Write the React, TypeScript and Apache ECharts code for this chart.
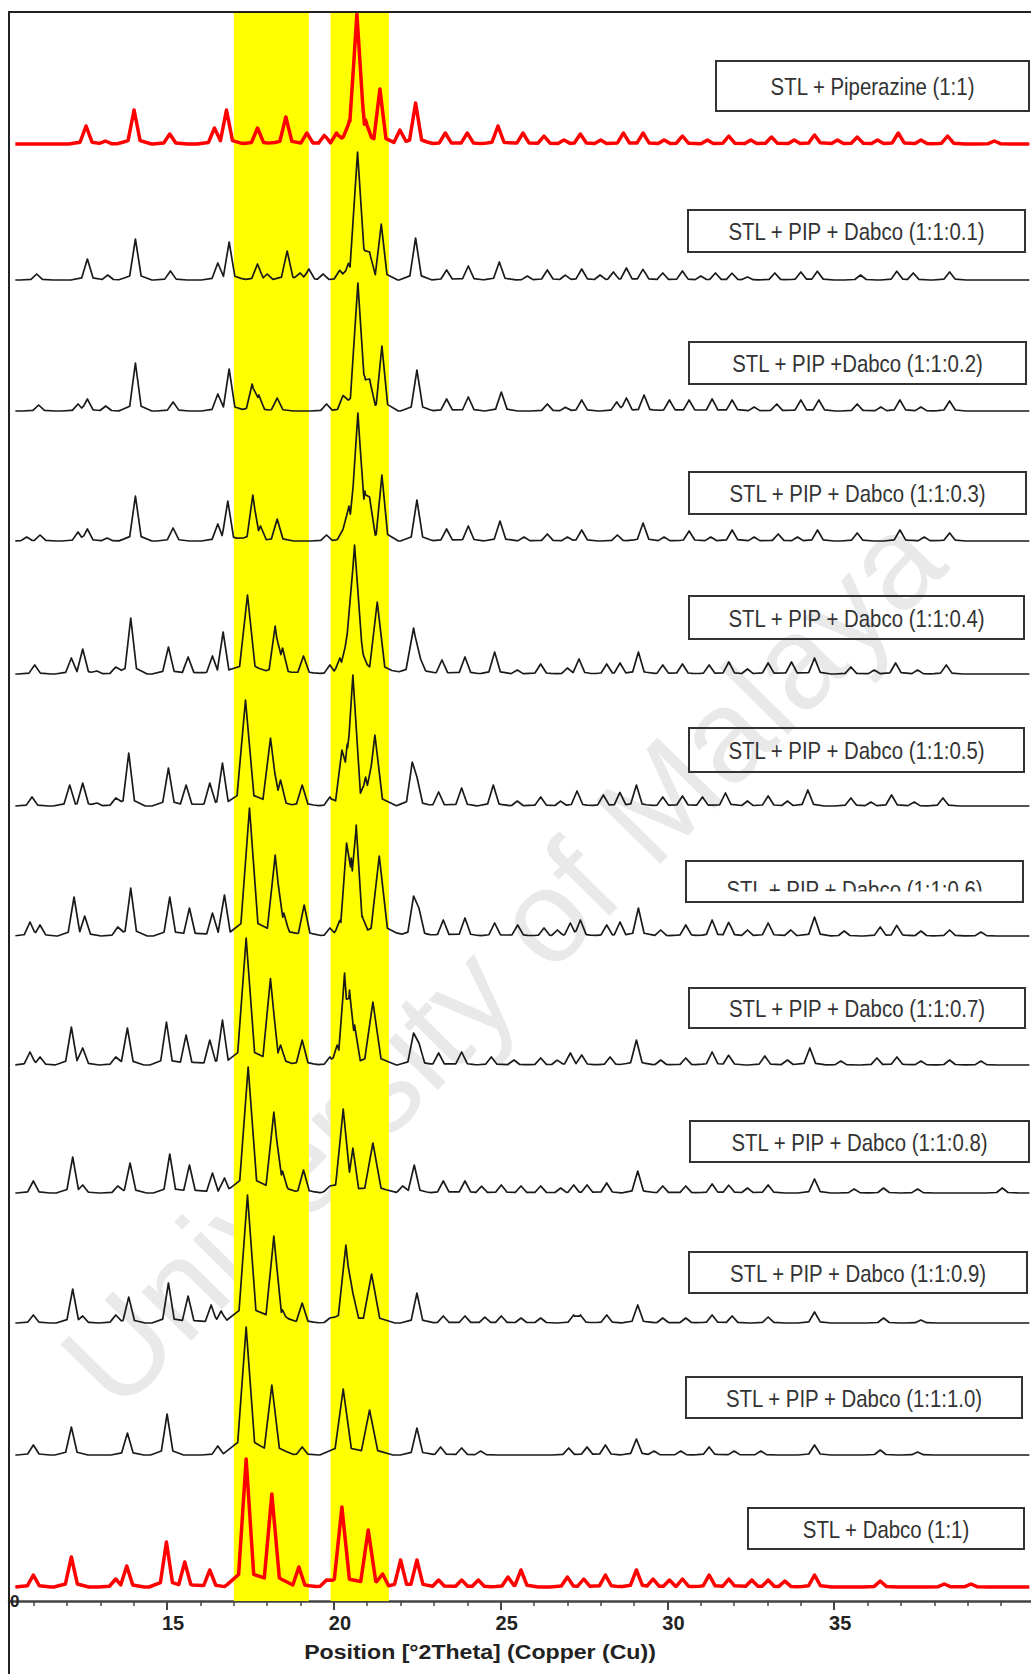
import React, { useEffect, useRef } from "react";
import * as echarts from "echarts";

// ---- axis / layout data ----
const X_MIN = 10.26;
const X_MAX = 40.9;
const X_START = 10.45;
const X_END = 40.85;
const Y_MAX = 1589;
const MAJOR_TICKS = [15, 20, 25, 30, 35];
const MINOR_TICKS = [11, 12, 13, 14, 16, 17, 18, 19, 21, 22, 23, 24, 26, 27, 28, 29, 31, 32, 33, 34, 36, 37, 38, 39, 40];
const BANDS = [
  [17.0, 19.25],
  [19.9, 21.65],
];
const X_TITLE = "Position [°2Theta] (Copper (Cu))";

const SAMPLE_NAMES = [
  "STL + Piperazine (1:1)",
  "STL + PIP + Dabco (1:1:0.1)",
  "STL + PIP +Dabco (1:1:0.2)",
  "STL + PIP + Dabco (1:1:0.3)",
  "STL + PIP + Dabco (1:1:0.4)",
  "STL + PIP + Dabco (1:1:0.5)",
  "STL + PIP + Dabco (1:1:0.6)",
  "STL + PIP + Dabco (1:1:0.7)",
  "STL + PIP + Dabco (1:1:0.8)",
  "STL + PIP + Dabco (1:1:0.9)",
  "STL + PIP + Dabco (1:1:1.0)",
  "STL + Dabco (1:1)",
];
// vertical offset of each pattern's baseline (stacked plot)
const OFFSETS = [1457, 1321, 1190, 1060, 927, 795, 665, 536, 408, 278, 146, 14];
const IS_REF = [true, false, false, false, false, false, false, false, false, false, false, true];

// ---- peak tables: [2theta, intensity, halfWidth?] ----
const PEAKS_PIP = [[12.57,18],[13.15,3],[14.01,34],[15.08,10],[16.42,16],[16.78,34],[17.71,16],[18.56,27],[19.19,11],[19.72,9],[20.08,11],[20.3,8],[20.47,24],[20.69,130,0.25],[20.95,24],[21.38,55],[21.98,14],[22.45,41],[23.34,11],[24.0,11],[24.92,18],[25.67,11],[26.3,8],[26.9,4],[27.39,10],[28.0,4],[28.68,11],[29.27,11],[29.9,4],[30.45,8],[31.2,4],[31.84,8],[32.5,4],[33.12,7],[33.8,4],[34.41,9],[35.1,4],[35.69,7],[36.3,4],[36.92,11],[37.6,4],[38.4,8],[39.8,3]];
const PEAKS_01 = [[11.09,6],[12.61,21],[13.22,5],[14.05,41],[15.1,9],[16.52,17],[16.86,38],[17.71,16],[18.0,6],[18.6,29],[18.99,7],[19.25,11],[19.68,6],[20.18,10],[20.44,17],[20.71,128,0.25],[20.93,30],[21.07,28],[21.42,56],[22.45,42],[23.38,10],[24.03,14],[24.96,18],[25.8,4],[26.4,10],[26.94,5],[27.43,11],[27.98,5],[28.38,8],[28.77,12],[29.27,11],[29.86,7],[30.45,9],[31.0,4],[31.44,7],[31.94,7],[32.4,3],[33.22,7],[34.0,8],[34.5,9],[35.79,5],[36.88,9],[37.37,7],[38.46,8]];
const PEAKS_02 = [[11.15,6],[12.33,7],[12.61,12],[13.16,5],[14.05,48],[15.18,9],[16.52,17],[16.86,42],[17.55,27],[17.75,16],[18.3,13],[19.78,7],[20.28,16],[20.72,128,0.25],[20.93,34],[21.07,32],[21.44,65],[22.49,41],[23.38,12],[24.03,14],[25.02,19],[26.4,7],[26.95,4],[27.43,11],[28.48,9],[28.77,13],[29.3,16],[30.06,11],[30.65,11],[31.34,12],[31.94,11],[32.6,4],[33.28,7],[34.0,11],[34.54,11],[35.69,7],[36.4,4],[36.97,11],[37.6,4],[38.46,10]];
const PEAKS_03 = [[10.79,4],[11.19,6],[12.33,9],[12.61,12],[13.2,3],[14.05,45],[15.18,13],[16.52,17],[16.82,40],[17.57,46],[17.8,15],[18.3,22],[19.78,6],[20.28,12],[20.45,35],[20.72,128,0.25],[20.93,50],[21.07,44],[21.44,66],[22.49,41],[23.38,12],[24.03,15],[24.98,20],[25.7,4],[26.4,7],[27.0,4],[27.43,11],[28.5,6],[29.27,18],[29.9,4],[30.65,10],[31.3,4],[31.94,11],[32.6,4],[33.32,7],[33.9,4],[34.5,11],[35.69,8],[36.97,11],[37.7,4],[38.46,8]];
const PEAKS_04 = [[11.03,9],[12.13,16],[12.47,25],[12.9,3],[13.46,7],[13.91,56],[15.04,27],[15.63,17],[16.36,18],[16.68,42],[17.41,79,0.25],[18.24,48],[18.46,26],[19.09,18],[19.88,9],[20.18,16],[20.4,40],[20.62,129,0.28],[20.83,27],[21.3,72,0.25],[22.39,46,0.25],[22.6,15],[23.24,14],[23.93,17],[24.82,22],[25.5,4],[26.2,10],[27.0,6],[27.35,15],[28.18,10],[28.58,11],[29.13,22],[29.86,9],[30.45,10],[31.25,9],[31.84,12],[32.4,5],[33.02,11],[33.72,12],[34.41,16],[35.5,7],[36.2,4],[36.84,11],[37.5,4],[38.36,9]];
const PEAKS_05 = [[10.95,9],[12.08,21],[12.47,23],[12.9,3],[13.46,8],[13.85,53],[15.04,38],[15.57,21],[16.28,23],[16.66,43],[17.35,106,0.28],[18.1,68,0.25],[18.4,26],[19.05,21],[19.88,9],[20.24,56],[20.4,62],[20.57,131,0.25],[20.95,29],[21.23,71,0.25],[22.35,44],[22.49,29],[23.14,14],[23.83,18],[24.78,21],[25.5,5],[26.2,9],[26.8,5],[27.29,15],[28.08,11],[28.58,14],[29.07,21],[29.86,9],[30.45,10],[31.05,9],[31.74,13],[32.4,5],[33.02,10],[33.6,5],[34.21,16],[35.5,8],[36.1,4],[36.72,11],[37.4,4],[38.26,8]];
const PEAKS_06 = [[10.89,14],[11.19,11],[12.21,39],[12.53,20],[13.52,9],[13.91,48],[15.08,39],[15.67,28],[16.36,23],[16.72,41],[17.47,128,0.28],[18.24,81,0.25],[18.5,23],[19.11,31],[19.88,8],[20.18,16],[20.38,93],[20.52,78],[20.67,111],[20.85,20],[21.36,80,0.27],[22.39,40],[22.55,28],[23.28,16],[23.93,18],[24.82,13],[25.51,11],[26.3,8],[26.7,6],[27.09,13],[27.39,16],[28.18,11],[28.58,14],[29.13,28],[29.8,6],[30.55,11],[31.34,16],[31.84,14],[32.4,6],[33.02,13],[33.7,6],[34.41,19],[35.3,5],[36.38,9],[36.88,11],[37.6,5],[38.46,6],[39.4,4]];
const PEAKS_07 = [[10.89,13],[11.19,8],[12.13,38],[12.47,17],[13.46,8],[13.81,37],[14.98,43],[15.57,30],[16.28,25],[16.66,45],[17.37,127,0.28],[18.1,87,0.25],[18.4,20],[19.05,25],[19.88,8],[20.1,20],[20.32,92],[20.47,75],[20.62,40],[21.17,63,0.27],[22.39,32],[22.55,22],[23.14,12],[23.83,13],[24.72,8],[25.4,5],[26.2,7],[26.7,5],[27.09,12],[27.43,10],[28.28,8],[29.07,25],[29.8,5],[30.55,7],[31.34,13],[31.84,10],[32.92,9],[33.6,5],[34.27,17],[35.2,4],[36.28,7],[36.88,8],[37.6,4],[38.46,5],[39.4,4]];
const PEAKS_08 = [[10.99,12],[12.17,36],[12.47,8],[13.52,7],[13.89,30],[15.08,39],[15.67,28],[16.36,20],[16.72,15],[17.43,126,0.28],[18.2,81,0.25],[18.46,22],[19.09,23],[19.88,7],[20.28,84,0.25],[20.57,45],[21.17,50,0.27],[22.06,7],[22.41,28],[23.28,12],[23.93,12],[24.43,7],[25.02,8],[25.61,7],[26.2,7],[26.8,5],[27.19,8],[27.59,8],[28.18,10],[29.11,22],[29.86,7],[30.55,7],[31.34,9],[31.84,8],[32.4,5],[33.02,8],[34.41,14],[35.6,4],[36.48,5],[37.5,4],[40.04,5]];
const PEAKS_09 = [[10.99,8],[12.17,34],[12.47,7],[13.46,8],[13.85,26],[15.04,40],[15.63,27],[16.32,18],[16.62,12],[17.41,128,0.28],[18.2,87,0.25],[18.46,13],[19.05,20],[19.88,5],[20.36,78,0.25],[20.57,30],[21.13,49,0.27],[22.49,30],[23.28,7],[23.93,7],[24.53,6],[25.02,7],[25.61,5],[26.2,5],[27.19,8],[27.39,8],[28.18,8],[29.11,18],[29.86,5],[30.55,5],[31.34,8],[31.94,7],[33.02,6],[34.41,11],[36.48,5],[37.6,3]];
const PEAKS_10 = [[10.99,10],[12.13,28],[13.81,22],[15.0,41],[16.52,9],[17.37,128,0.28],[18.14,70,0.25],[19.05,8],[20.28,66,0.27],[21.07,45,0.27],[22.49,27],[23.2,8],[23.83,7],[24.4,4],[27.04,7],[27.59,8],[28.14,10],[29.07,16],[29.6,4],[30.4,4],[31.25,8],[32.0,4],[32.8,4],[34.41,10],[36.38,5],[37.5,3]];
const PEAKS_DAB = [[10.99,12],[12.13,30],[13.46,8],[13.79,21],[14.98,45],[15.53,25],[16.28,17],[17.37,128,0.25],[18.14,93,0.25],[18.95,20],[19.78,7],[20.24,80,0.25],[21.03,57,0.25],[21.46,13],[22.0,27],[22.49,27],[23.14,7],[23.83,7],[24.33,7],[25.22,10],[25.61,17],[27.0,10],[27.49,8],[28.14,12],[29.07,17],[29.57,8],[30.06,7],[30.45,8],[31.25,12],[31.84,8],[32.53,7],[33.02,7],[33.52,6],[34.41,12],[36.38,6],[38.3,3],[39.1,3]];

const PEAK_TABLES = [PEAKS_PIP, PEAKS_01, PEAKS_02, PEAKS_03, PEAKS_04, PEAKS_05, PEAKS_06, PEAKS_07, PEAKS_08, PEAKS_09, PEAKS_10, PEAKS_DAB];

// label boxes: [x1, y1, x2, y2]
const BOXES = [
  [716, 61, 1029, 111],
  [688, 210, 1025, 252],
  [689, 342, 1026, 384],
  [689, 472, 1026, 514],
  [689, 596, 1024, 639],
  [689, 728, 1024, 772],
  [686, 861, 1023, 902],
  [689, 988, 1025, 1028],
  [690, 1121, 1029, 1162],
  [689, 1252, 1027, 1293],
  [686, 1377, 1022, 1418],
  [748, 1508, 1024, 1549],
];

// peak profile: sharp tip plus a low, wider foot
const FOOT_RATIO = 0.15;
const FOOT_SPREAD = 2.6;

function peakValue(pk: number[], x: number, hwDefault: number) {
  const hw = pk[2] ?? hwDefault;
  const d = Math.abs(x - pk[0]);
  const tip = d < hw ? pk[1] * (1 - d / hw) : 0;
  const fw = hw * FOOT_SPREAD;
  const foot = d < fw ? FOOT_RATIO * pk[1] * (1 - d / fw) : 0;
  return Math.max(tip, foot);
}

function buildProfile(peaks: number[][], offset: number, hwDefault: number) {
  const xs = new Set<number>([X_START, X_END]);
  const kink = (1 - FOOT_RATIO) / (1 - FOOT_RATIO / FOOT_SPREAD);
  peaks.forEach((pk) => {
    const hw = pk[2] ?? hwDefault;
    [-FOOT_SPREAD, -kink, 0, kink, FOOT_SPREAD].forEach((k) => xs.add(+(pk[0] + k * hw).toFixed(4)));
  });
  const sorted = Array.from(xs).filter((x) => x >= X_START && x <= X_END).sort((a, b) => a - b);
  return sorted.map((x) => {
    let y = 0;
    for (const pk of peaks) y = Math.max(y, peakValue(pk, x, hwDefault));
    return [x, offset + y];
  });
}

export default function App() {
  const ref = useRef<HTMLDivElement>(null);
  useEffect(() => {
    if (!ref.current) return;
    const chart = echarts.init(ref.current, undefined, { renderer: "svg" });
    const labelFont = '24px "Liberation Sans", Arial, sans-serif';

    const lineSeries: any[] = PEAK_TABLES.map((peaks, i) => ({
      type: "line",
      name: SAMPLE_NAMES[i],
      data: buildProfile(peaks, OFFSETS[i], IS_REF[i] ? 0.2 : 0.19),
      showSymbol: false,
      symbol: "none",
      silent: true,
      z: 3,
      lineStyle: IS_REF[i]
        ? { color: "#ff0000", width: 3.5, join: "round" }
        : { color: "#1a1a1a", width: 1.7, join: "round" },
    }));

    const bandSeries = {
      type: "line",
      data: [],
      silent: true,
      z: 0,
      markArea: {
        silent: true,
        itemStyle: { color: "#ffff00", opacity: 1 },
        data: BANDS.map((b) => [{ xAxis: b[0] }, { xAxis: b[1] }]),
      },
    };

    const graphics: any[] = [];
    // watermark
    graphics.push({
      type: "text",
      x: 502,
      y: 960,
      rotation: (45.5 * Math.PI) / 180,
      z: 1,
      silent: true,
      style: {
        text: "University of Malaya",
        font: '132px "Liberation Sans", Arial, sans-serif',
        fill: "rgba(0,0,0,0.085)",
        textAlign: "center",
        textVerticalAlign: "middle",
      },
    });
    BOXES.forEach((b, i) => {
      const cx = (b[0] + b[2]) / 2;
      const cy = (b[1] + b[3]) / 2;
      const cut = i === 6;
      graphics.push({
        type: "text",
        x: cx,
        y: cut ? cy + 8 : cy + 1,
        scaleX: 0.85,
        z: 6,
        silent: true,
        style: {
          text: SAMPLE_NAMES[i],
          font: labelFont,
          fill: "#333",
          textAlign: "center",
          textVerticalAlign: "middle",
        },
      });
      if (cut) {
        graphics.push({
          type: "rect",
          z: 7,
          silent: true,
          shape: { x: b[0] + 2, y: cy + 10, width: b[2] - b[0] - 4, height: b[3] - cy - 11 },
          style: { fill: "#ffffff" },
        });
      }
      graphics.push({
        type: "rect",
        z: 8,
        silent: true,
        shape: { x: b[0], y: b[1], width: b[2] - b[0], height: b[3] - b[1] },
        style: { fill: "none", stroke: "#333", lineWidth: 2 },
      });
    });
    // outer frame
    graphics.push({
      type: "rect",
      z: 9,
      silent: true,
      shape: { x: 9, y: 12, width: 1040, height: 1690 },
      style: { fill: "none", stroke: "#222", lineWidth: 2 },
    });
    // x-axis title
    graphics.push({
      type: "text",
      x: 480,
      y: 1652,
      z: 9,
      scaleX: 1.1,
      silent: true,
      style: {
        text: X_TITLE,
        font: 'bold 21px "Liberation Sans", Arial, sans-serif',
        fill: "#222",
        textAlign: "center",
        textVerticalAlign: "middle",
      },
    });

    chart.setOption({
      animation: false,
      backgroundColor: "#ffffff",
      grid: { left: 9, right: 0, top: 12, bottom: 73, containLabel: false },
      xAxis: [
        {
          type: "value",
          min: X_MIN,
          max: X_MAX,
          position: "bottom",
          axisLine: { show: true, onZero: false, lineStyle: { color: "#444", width: 2.5 } },
          axisTick: { show: true, customValues: MAJOR_TICKS, length: 9, lineStyle: { color: "#444", width: 2 } },
          axisLabel: {
            customValues: MAJOR_TICKS,
            fontSize: 20,
            fontWeight: "bold",
            color: "#222",
            margin: 12,
            padding: [0, 0, 0, 12],
            fontFamily: '"Liberation Sans", Arial, sans-serif',
          },
          splitLine: { show: false },
        },
        {
          type: "value",
          min: X_MIN,
          max: X_MAX,
          position: "bottom",
          axisLine: { show: false, onZero: false },
          axisTick: { show: true, customValues: MINOR_TICKS, length: 5, lineStyle: { color: "#444", width: 1.5 } },
          axisLabel: { show: false },
          splitLine: { show: false },
        },
      ],
      yAxis: {
        type: "value",
        min: 0,
        max: Y_MAX,
        axisLine: { show: false },
        axisTick: { show: false },
        axisLabel: {
          inside: true,
          customValues: [0],
          margin: 1,
          fontSize: 17,
          fontWeight: "bold",
          color: "#222",
          fontFamily: '"Liberation Sans", Arial, sans-serif',
        },
        splitLine: { show: false },
      },
      graphic: { elements: graphics },
      series: [bandSeries, ...lineSeries],
    });
    return () => chart.dispose();
  }, []);
  return (
    <div
      ref={ref}
      style={{ position: "absolute", left: 0, top: 0, width: 1031, height: 1674, background: "#fff" }}
    />
  );
}
